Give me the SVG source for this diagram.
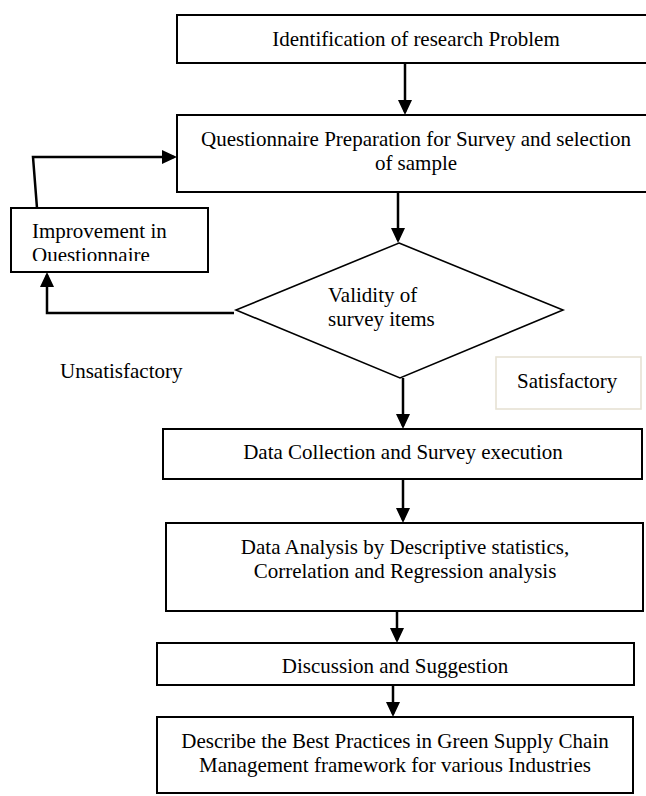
<svg xmlns="http://www.w3.org/2000/svg" width="646" height="796" viewBox="0 0 646 796">
  <style>
    .box { fill: #ffffff; stroke: #000000; stroke-width: 2; }
    .dia { fill: #ffffff; stroke: #000000; stroke-width: 1.6; }
    .lbl { font-family: "Liberation Serif", "Times New Roman", serif; font-size: 21px; fill: #000000; }
    .mid { text-anchor: middle; }
    .con { fill: none; stroke: #000000; stroke-width: 2.5; }
    .sat { fill: #ffffff; stroke: #e6e2d4; stroke-width: 1.6; }
  </style>
  <defs>
    <marker id="arr" markerUnits="userSpaceOnUse" markerWidth="15" markerHeight="14" refX="12" refY="7" orient="auto">
      <path d="M0,0 L15,7 L0,14 z" fill="#000000"/>
    </marker>
    <clipPath id="impClip">
      <rect x="12" y="209" width="195" height="52"/>
    </clipPath>
  </defs>
  <rect width="646" height="796" fill="#ffffff"/>

  <g id="connectors">
    <line class="con" x1="405" y1="63" x2="405" y2="112" marker-end="url(#arr)"/>
    <line class="con" x1="398" y1="192" x2="398" y2="240" marker-end="url(#arr)"/>
    <line class="con" x1="403" y1="378" x2="403" y2="426" marker-end="url(#arr)"/>
    <line class="con" x1="403" y1="479" x2="403" y2="520" marker-end="url(#arr)"/>
    <line class="con" x1="397" y1="611" x2="397" y2="640" marker-end="url(#arr)"/>
    <line class="con" x1="393" y1="685" x2="393" y2="714" marker-end="url(#arr)"/>
    <polyline class="con" points="234,313 47,313 47,275" marker-end="url(#arr)"/>
    <polyline class="con" points="37,208 33,157 174,157" marker-end="url(#arr)"/>
  </g>

  <g id="n-identification">
    <rect class="box" x="177" y="15" width="490" height="48"/>
    <text class="lbl mid" x="416" y="46">Identification of research Problem</text>
  </g>

  <g id="n-questionnaire">
    <rect class="box" x="177" y="115" width="490" height="77"/>
    <text class="lbl mid" x="416" y="146">Questionnaire Preparation for Survey and selection</text>
    <text class="lbl mid" x="416" y="170">of sample</text>
  </g>

  <g id="n-improvement">
    <rect class="box" x="11" y="208" width="197" height="64"/>
    <g clip-path="url(#impClip)">
      <text class="lbl" x="32" y="238">Improvement in</text>
      <text class="lbl" x="32" y="262">Questionnaire</text>
    </g>
  </g>

  <g id="n-validity">
    <polygon class="dia" points="399,243 563,310 400,378 236,310"/>
    <text class="lbl" x="328" y="302">Validity of</text>
    <text class="lbl" x="328" y="326">survey items</text>
  </g>

  <g id="l-unsatisfactory">
    <text class="lbl" x="60" y="378">Unsatisfactory</text>
  </g>

  <g id="l-satisfactory">
    <rect class="sat" x="496" y="357" width="145" height="52"/>
    <text class="lbl" x="517" y="388">Satisfactory</text>
  </g>

  <g id="n-collection">
    <rect class="box" x="163" y="429" width="479" height="50"/>
    <text class="lbl mid" x="403" y="459">Data Collection and Survey execution</text>
  </g>

  <g id="n-analysis">
    <rect class="box" x="166" y="523" width="477" height="88"/>
    <text class="lbl mid" x="405" y="554">Data Analysis by Descriptive statistics,</text>
    <text class="lbl mid" x="405" y="578">Correlation and Regression analysis</text>
  </g>

  <g id="n-discussion">
    <rect class="box" x="157" y="643" width="477" height="42"/>
    <text class="lbl mid" x="395" y="673">Discussion and Suggestion</text>
  </g>

  <g id="n-describe">
    <rect class="box" x="157" y="717" width="476" height="76"/>
    <text class="lbl mid" x="395" y="748">Describe the Best Practices in Green Supply Chain</text>
    <text class="lbl mid" x="395" y="772">Management framework for various Industries</text>
  </g>
</svg>
